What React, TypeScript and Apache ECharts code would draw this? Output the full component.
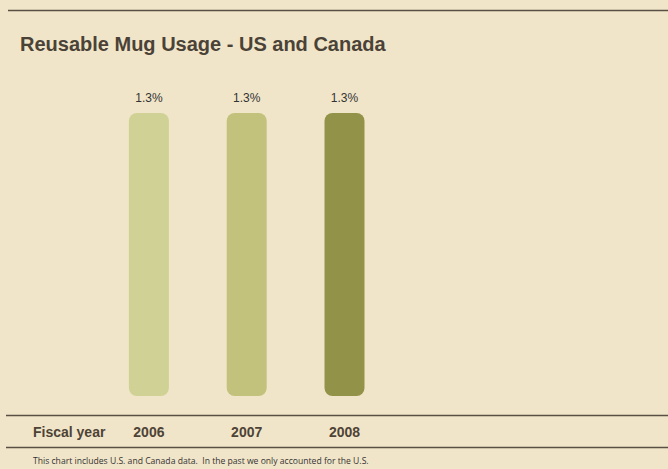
import React, { useEffect, useRef } from "react";
import * as echarts from "echarts";

const categories = ["2006", "2007", "2008"];
const values = [1.3, 1.3, 1.3];
const valueLabels = ["1.3%", "1.3%", "1.3%"];
const barColors = ["#D0D295", "#C2C27C", "#929349"];
const title = "Reusable Mug Usage - US and Canada";
const axisTitle = "Fiscal year";
const footnote = "This chart includes U.S. and Canada data.  In the past we only accounted for the U.S.";

export default function App() {
  const ref = useRef<HTMLDivElement>(null);
  useEffect(() => {
    const chart = echarts.init(ref.current!, null, { renderer: "svg" });
    const W = 668;
    chart.setOption({
      animation: false,
      backgroundColor: "#F1E5C9",
      grid: { left: 100, width: 293.4, top: 113, bottom: 469 - 396 },
      xAxis: {
        type: "category",
        data: categories,
        axisLine: { show: false },
        axisTick: { show: false },
        axisLabel: {
          margin: 29,
          color: "#4d4336",
          fontFamily: "Liberation Sans, Arial, sans-serif",
          fontWeight: "bold",
          fontSize: 14,
        },
      },
      yAxis: { type: "value", min: 0, max: 1.3, show: false, splitLine: { show: false } },
      series: [
        {
          type: "bar",
          barWidth: 40,
          data: values.map((v, i) => ({
            value: v,
            itemStyle: { color: barColors[i] },
            label: { formatter: valueLabels[i] },
          })),
          itemStyle: { borderRadius: 8 },
          label: {
            show: true,
            position: "top",
            distance: 9,
            color: "#333",
            fontFamily: "Liberation Sans, Arial, sans-serif",
            fontSize: 12,
          },
        },
      ],
      graphic: [
        { type: "line", shape: { x1: 8, y1: 10.5, x2: W, y2: 10.5 }, style: { stroke: "#5a4f44", lineWidth: 1.5 } },
        { type: "line", shape: { x1: 6, y1: 415.5, x2: W, y2: 415.5 }, style: { stroke: "#5a4f44", lineWidth: 1.5 } },
        { type: "line", shape: { x1: 6, y1: 447.5, x2: W, y2: 447.5 }, style: { stroke: "#5a4f44", lineWidth: 1.5 } },
        {
          type: "text",
          x: 20,
          y: 44,
          style: {
            text: title,
            fill: "#4b4237",
            font: "bold 20px 'Liberation Sans', Arial, sans-serif",
            textVerticalAlign: "middle",
          },
        },
        {
          type: "text",
          x: 33,
          y: 432,
          style: {
            text: axisTitle,
            fill: "#4d4336",
            font: "bold 14px 'Liberation Sans', Arial, sans-serif",
            textVerticalAlign: "middle",
          },
        },
        {
          type: "text",
          x: 33,
          y: 461,
          style: {
            text: footnote,
            fill: "#333",
            font: "8.6px 'Open Sans', sans-serif",
            textVerticalAlign: "middle",
          },
        },
      ],
    });
    return () => chart.dispose();
  }, []);
  return <div ref={ref} style={{ width: 668, height: 469, position: "fixed", left: 0, top: 0 }} />;
}
